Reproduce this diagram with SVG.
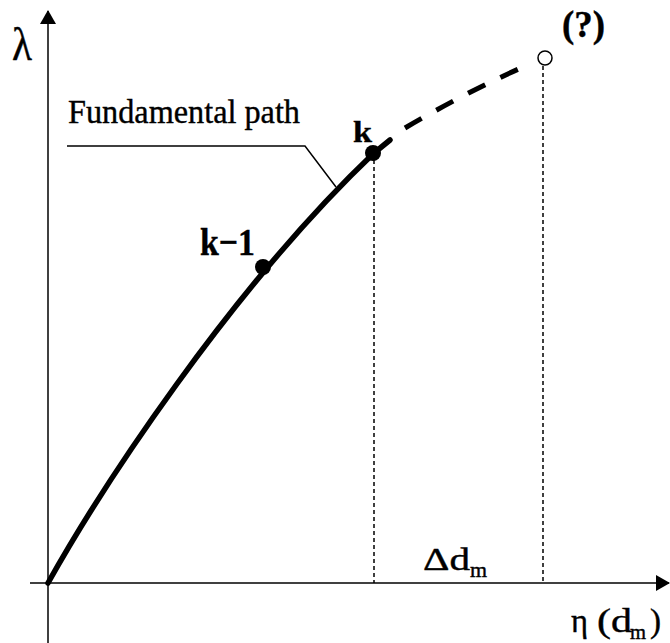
<svg xmlns="http://www.w3.org/2000/svg" width="670" height="643" viewBox="0 0 670 643">
<style>
text{font-family:"Liberation Serif","Times New Roman",serif;fill:#000;stroke:#000;stroke-width:0.4}
.ax{stroke:#000;stroke-width:1.5;fill:none}
.dot{stroke:#000;stroke-width:1.5;stroke-dasharray:4 3;fill:none}
.b{font-weight:bold}
</style>
<defs>
<marker id="ah" markerWidth="14" markerHeight="16" refX="13" refY="8" orient="auto" markerUnits="userSpaceOnUse">
<path d="M0,0 L14,8 L0,16 Z" fill="#000"/>
</marker>
</defs>
<rect width="670" height="643" fill="#fff"/>
<g id="connectors">
<line class="ax" x1="48" y1="643" x2="48" y2="11" marker-end="url(#ah)"/>
<line class="ax" x1="30" y1="583" x2="669" y2="583" marker-end="url(#ah)"/>
<line class="dot" x1="374" y1="160" x2="374" y2="583"/>
<line class="dot" x1="543" y1="66" x2="543" y2="583"/>
<path d="M48,583 C100,490 230,290 374,153 L390,140" stroke="#000" stroke-width="5.5" fill="none" stroke-linecap="round"/>
<path d="M405,128 Q470,90 530,64" stroke="#000" stroke-width="5" fill="none" stroke-dasharray="19 17"/>
<polyline points="67,146 305,146 336,187" stroke="#000" stroke-width="1.5" fill="none"/>
</g>
<g id="node-k1"><circle cx="263" cy="267" r="8" fill="#000"/><text class="b" x="200" y="255" font-size="38" textLength="55" lengthAdjust="spacingAndGlyphs">k−1</text></g>
<g id="node-k"><circle cx="373" cy="153" r="8" fill="#000"/><text class="b" x="353" y="142" font-size="29" textLength="19" lengthAdjust="spacingAndGlyphs">k</text></g>
<g id="node-q"><circle cx="545" cy="58" r="7" fill="#fff" stroke="#000" stroke-width="1.5"/><text class="b" x="562" y="37" font-size="37" textLength="43" lengthAdjust="spacingAndGlyphs">(?)</text></g>
<g id="label-path"><text x="68" y="123" font-size="34" textLength="232" lengthAdjust="spacingAndGlyphs">Fundamental path</text></g>
<g id="label-lambda"><text x="12" y="60" font-size="46" textLength="20" lengthAdjust="spacingAndGlyphs">λ</text></g>
<g id="label-delta"><text x="423" y="570" font-size="32" textLength="47" lengthAdjust="spacingAndGlyphs">Δd</text><text x="470" y="577" font-size="20" textLength="17" lengthAdjust="spacingAndGlyphs">m</text></g>
<g id="label-eta"><text x="571" y="632" font-size="34" textLength="17" lengthAdjust="spacingAndGlyphs">η</text><text x="597" y="632" font-size="33" textLength="35" lengthAdjust="spacingAndGlyphs">(d</text><text x="630" y="639" font-size="20" textLength="16" lengthAdjust="spacingAndGlyphs">m</text><text x="650" y="632" font-size="33">)</text></g>
</svg>
